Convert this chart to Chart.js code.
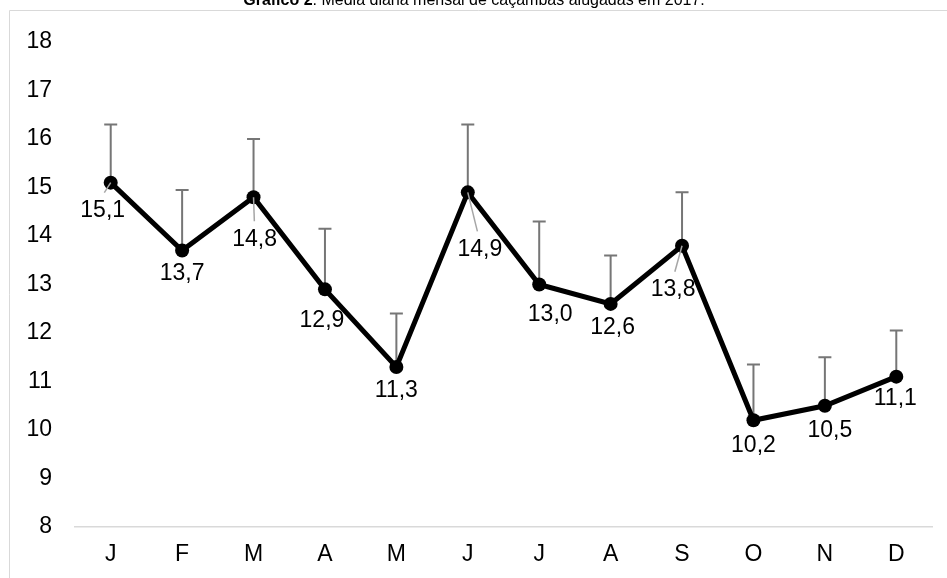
<!DOCTYPE html>
<html>
<head>
<meta charset="utf-8">
<script src="https://cdn.jsdelivr.net/npm/chart.js@4"></script>
<style>
  html, body { margin: 0; padding: 0; background: #fff; }
  #wrap { position: relative; width: 947px; height: 578px; }
</style>
</head>
<body>
<div id="wrap"><canvas id="grafico"></canvas></div>
<script>
const meses = ['J', 'F', 'M', 'A', 'M', 'J', 'J', 'A', 'S', 'O', 'N', 'D'];
const mediaDiaria = [15.1, 13.7, 14.8, 12.9, 11.3, 14.9, 13.0, 12.6, 13.8, 10.2, 10.5, 11.1];
const erroSuperior = [1.2, 1.25, 1.2, 1.25, 1.1, 1.4, 1.3, 1.0, 1.1, 1.15, 1.0, 0.95];
const eixoMin = 8;
const eixoMax = 18;

const FONTE = '"Liberation Sans", Arial, sans-serif';

// where each data label sits relative to its point (Excel moved some of them)
const posRotulos = [[-8, 28], [0, 23], [1, 42], [-3, 31], [0, 24], [12, 57],
                    [11, 30], [2, 24], [-9, 44], [0, 25], [5, 25], [-1, 22]];
const comGuia = [0, 2, 5, 8];

const moldura = {
    id: 'moldura',
    beforeDraw(chart) {
        const ctx = chart.ctx;
        ctx.save();
        ctx.strokeStyle = '#d9d9d9';
        ctx.lineWidth = 1;
        ctx.beginPath();
        ctx.moveTo(9.5, chart.height);
        ctx.lineTo(9.5, 10.5);
        ctx.lineTo(chart.width, 10.5);
        ctx.stroke();

        // title, cut off by the top edge like in the original
        ctx.fillStyle = '#000';
        ctx.textBaseline = 'alphabetic';
        const parte1 = 'Gráfico 2';
        const parte2 = ': Média diária mensal de caçambas alugadas em 2017.';
        ctx.font = 'bold 16px ' + FONTE;
        const w1 = ctx.measureText(parte1).width;
        ctx.font = '16px ' + FONTE;
        const w2 = ctx.measureText(parte2).width;
        const x0 = 474 - (w1 + w2) / 2;
        ctx.font = 'bold 16px ' + FONTE;
        ctx.fillText(parte1, x0, 5);
        ctx.font = '16px ' + FONTE;
        ctx.fillText(parte2, x0 + w1, 5);
        ctx.restore();
    }
};

const barrasErro = {
    id: 'barrasErro',
    beforeDatasetsDraw(chart) {
        const ctx = chart.ctx;
        const y = chart.scales.y;
        const meta = chart.getDatasetMeta(0);
        ctx.save();
        ctx.strokeStyle = '#767676';
        ctx.lineWidth = 2;
        meta.data.forEach((pt, i) => {
            const topo = y.getPixelForValue(mediaDiaria[i] + erroSuperior[i]);
            ctx.beginPath();
            ctx.moveTo(pt.x, pt.y);
            ctx.lineTo(pt.x, topo);
            ctx.moveTo(pt.x - 6.5, topo);
            ctx.lineTo(pt.x + 6.5, topo);
            ctx.stroke();
        });
        ctx.restore();
    }
};

const rotulos = {
    id: 'rotulos',
    afterDatasetsDraw(chart) {
        const ctx = chart.ctx;
        const meta = chart.getDatasetMeta(0);
        ctx.save();
        ctx.font = '23px ' + FONTE;
        ctx.textAlign = 'center';
        ctx.textBaseline = 'middle';
        meta.data.forEach((pt, i) => {
            const [dx, dy] = posRotulos[i];
            const lx = pt.x + dx, ly = pt.y + dy;
            if (comGuia.includes(i)) {
                ctx.strokeStyle = '#a6a6a6';
                ctx.lineWidth = 1.5;
                ctx.beginPath();
                ctx.moveTo(pt.x, pt.y);
                ctx.lineTo(pt.x + dx * 0.8, ly - 18);
                ctx.stroke();
            }
            ctx.fillStyle = '#000';
            ctx.fillText(mediaDiaria[i].toFixed(1).replace('.', ','), lx, ly);
        });
        ctx.restore();
    }
};

new Chart(document.getElementById('grafico'), {
    type: 'line',
    data: {
        labels: meses,
        datasets: [{
            data: mediaDiaria,
            borderColor: '#000',
            borderWidth: 5,
            backgroundColor: '#000',
            pointRadius: 7,
            pointBackgroundColor: '#000',
            pointBorderWidth: 0,
            tension: 0
        }]
    },
    options: {
        responsive: true,
        maintainAspectRatio: false,
        animation: false,
        layout: { padding: { top: 42, right: 15, left: 0, bottom: 0 } },
        plugins: {
            legend: { display: false },
            tooltip: { enabled: false }
        },
        scales: {
            x: {
                offset: true,
                grid: { display: false, drawTicks: false },
                border: { display: true, color: '#d9d9d9', width: 1.5 },
                ticks: { color: '#000', font: { family: FONTE, size: 23 }, padding: 14 },
                afterFit: (s) => { s.height = 51; }
            },
            y: {
                min: eixoMin,
                max: eixoMax,
                grid: { display: false, drawTicks: false },
                border: { display: false },
                ticks: { stepSize: 1, color: '#000', font: { family: FONTE, size: 23 }, padding: 23 },
                afterFit: (s) => { s.width = 75; }
            }
        }
    },
    plugins: [moldura, barrasErro, rotulos]
});
</script>
</body>
</html>
